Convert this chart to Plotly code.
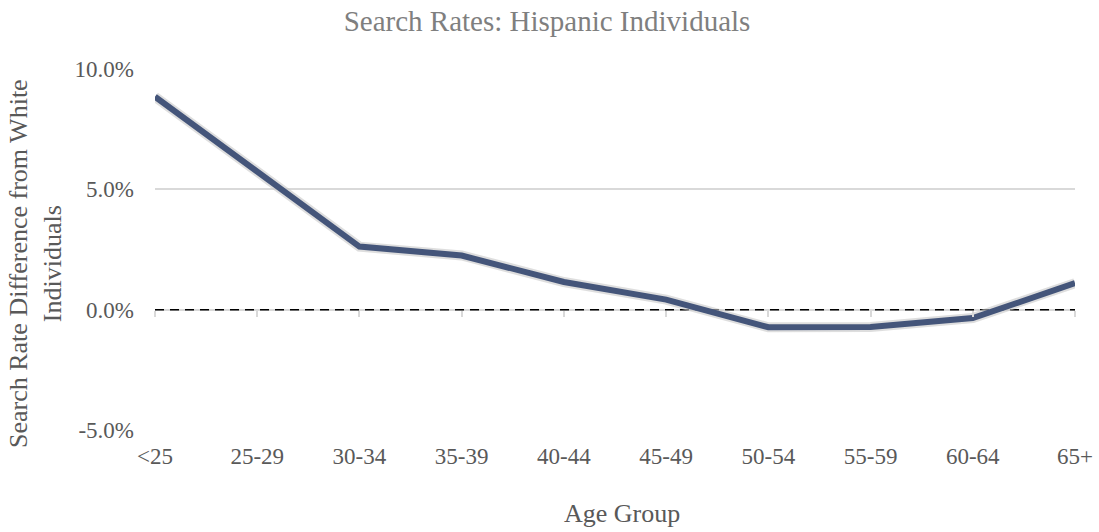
import plotly.graph_objects as go

# ---- data ----
age_groups = ["<25", "25-29", "30-34", "35-39", "40-44", "45-49",
              "50-54", "55-59", "60-64", "65+"]
search_rate_diff = [8.85, 5.75, 2.62, 2.25, 1.15, 0.42, -0.73, -0.72, -0.35, 1.10]  # percent
baseline_value = 0
y_tick_values = [-5, 0, 5, 10]
y_tick_labels = ["-5.0%", "0.0%", "5.0%", "10.0%"]

title_text = "Search Rates: Hispanic Individuals"
x_title = "Age Group"
y_title = "Search Rate Difference from White<br>Individuals"

FONT = "Liberation Serif, Times New Roman, serif"
LINE_COLOR = "#44557A"
GRID = "#D9D9D9"
TEXT = "#595959"

W, H = 1099, 532

fig = go.Figure()

# invisible trace to carry the tick-mark axis crossing at 0
fig.add_trace(go.Scatter(
    x=age_groups, y=search_rate_diff, xaxis="x2", mode="lines",
    line=dict(width=0, color="rgba(0,0,0,0)"), hoverinfo="skip", showlegend=False))

# dashed zero reference line across the category range
fig.add_trace(go.Scatter(
    x=[age_groups[0], age_groups[-1]], y=[baseline_value, baseline_value], mode="lines",
    line=dict(color="black", width=1.5, dash="9px,6px"),
    hoverinfo="skip", showlegend=False))

# soft glow under the line
fig.add_trace(go.Scatter(
    x=age_groups, y=search_rate_diff, mode="lines",
    line=dict(color="rgba(200,200,200,0.6)", width=10),
    hoverinfo="skip", showlegend=False))

fig.add_trace(go.Scatter(
    x=age_groups, y=search_rate_diff, mode="lines",
    line=dict(color=LINE_COLOR, width=6),
    name="Hispanic", showlegend=False))

yr = [-5, 10]
zero_pos = (0 - yr[0]) / (yr[1] - yr[0])

fig.update_layout(
    width=W, height=H,
    paper_bgcolor="white", plot_bgcolor="white",
    margin=dict(l=155, r=W - 1075, t=69, b=H - 430, autoexpand=False),
    font=dict(family=FONT, color=TEXT),
    title=dict(text=title_text, x=547 / W, xref="container", xanchor="center",
               y=1 - 21 / H, yref="container", yanchor="middle",
               font=dict(family=FONT, size=29, color="#7F7F7F")),
    xaxis=dict(type="category", categoryorder="array", categoryarray=age_groups,
               range=[0, len(age_groups) - 1], showgrid=False, zeroline=False,
               showline=False, ticks="", tickfont=dict(family=FONT, size=23, color=TEXT),
               ticklabelstandoff=10),
    xaxis2=dict(type="category", categoryorder="array", categoryarray=age_groups,
                range=[0, len(age_groups) - 1], overlaying="x", anchor="free",
                position=zero_pos, side="bottom", showgrid=False, zeroline=False,
                showline=False, ticks="outside", ticklen=6, tickwidth=1.5,
                tickcolor=GRID, showticklabels=False),
    yaxis=dict(range=yr, tickvals=y_tick_values, ticktext=y_tick_labels,
               showgrid=True, gridcolor=GRID, gridwidth=1.5, zeroline=False,
               showline=False, ticks="", ticklabelstandoff=20,
               tickfont=dict(family=FONT, size=23, color=TEXT)),
    annotations=[
        dict(text=x_title, xref="paper", yref="paper", x=(622 - 155) / 920,
             y=(430 - 513) / 361, xanchor="center", yanchor="middle", showarrow=False,
             font=dict(family=FONT, size=26, color=TEXT)),
        dict(text=y_title, xref="paper", yref="paper", x=(35 - 155) / 920,
             y=(430 - 264) / 361, xanchor="center", yanchor="middle", showarrow=False,
             textangle=-90, font=dict(family=FONT, size=26, color=TEXT)),
    ],
)

# remove the page's default 8px body margin so the figure sits at the window corner
fig.write_html("out.html", config={"displayModeBar": False},
               post_script="document.body.style.margin='0';")
